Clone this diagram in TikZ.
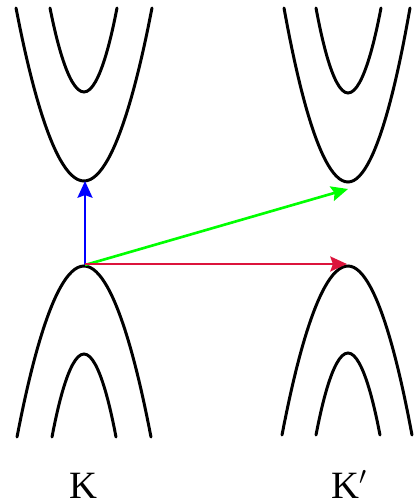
\documentclass[tikz,border=0pt]{standalone}
\usepackage{fontspec}
\setmainfont{Liberation Serif}
\usepackage{tikz}
\usetikzlibrary{arrows.meta}

\definecolor{arrred}{RGB}{220,20,60}

\begin{document}
\begin{tikzpicture}[x=0.02cm, y=-0.02cm, >={Stealth[length=9.5pt, width=8.5pt, inset=1.5pt]},
    band/.style={line width=1.7pt, line cap=round},
    trans/.style={->, line width=1.5pt},
    valley/.style={anchor=base, inner sep=0pt, font=\fontsize{22}{26}\selectfont}]
  \useasboundingbox (0,0) rectangle (413,504);
  % bands at K
  \draw[band] (16,8) parabola bend (84,181) (152,8);
  \draw[band] (50,8) parabola bend (84,92) (117,8);
  \draw[band] (17,437) parabola bend (84,266) (151,437);
  \draw[band] (52,437) parabola bend (84,354) (116,437);
  % bands at K'
  \draw[band] (284,8) parabola bend (348,182) (410,8);
  \draw[band] (316,8) parabola bend (348,93) (381,8);
  \draw[band] (282,435) parabola bend (348,266) (412,435);
  \draw[band] (316,435) parabola bend (348,353) (380,435);
  % band edges
  \coordinate (vK) at (85,265);
  \coordinate (cK) at (85,181);
  \coordinate (cKp) at (348,189);
  \coordinate (vKp) at (347,264);
  \draw[trans, blue] (vK) -- (cK);
  \draw[trans, green] (vK) -- (cKp);
  \draw[trans, arrred] (vK |- vKp) -- (vKp);
  \node[valley] (labK) at (83,498) {K};
  \node[valley] (labKp) at (349,498) {K$'$};
\end{tikzpicture}
\end{document}
